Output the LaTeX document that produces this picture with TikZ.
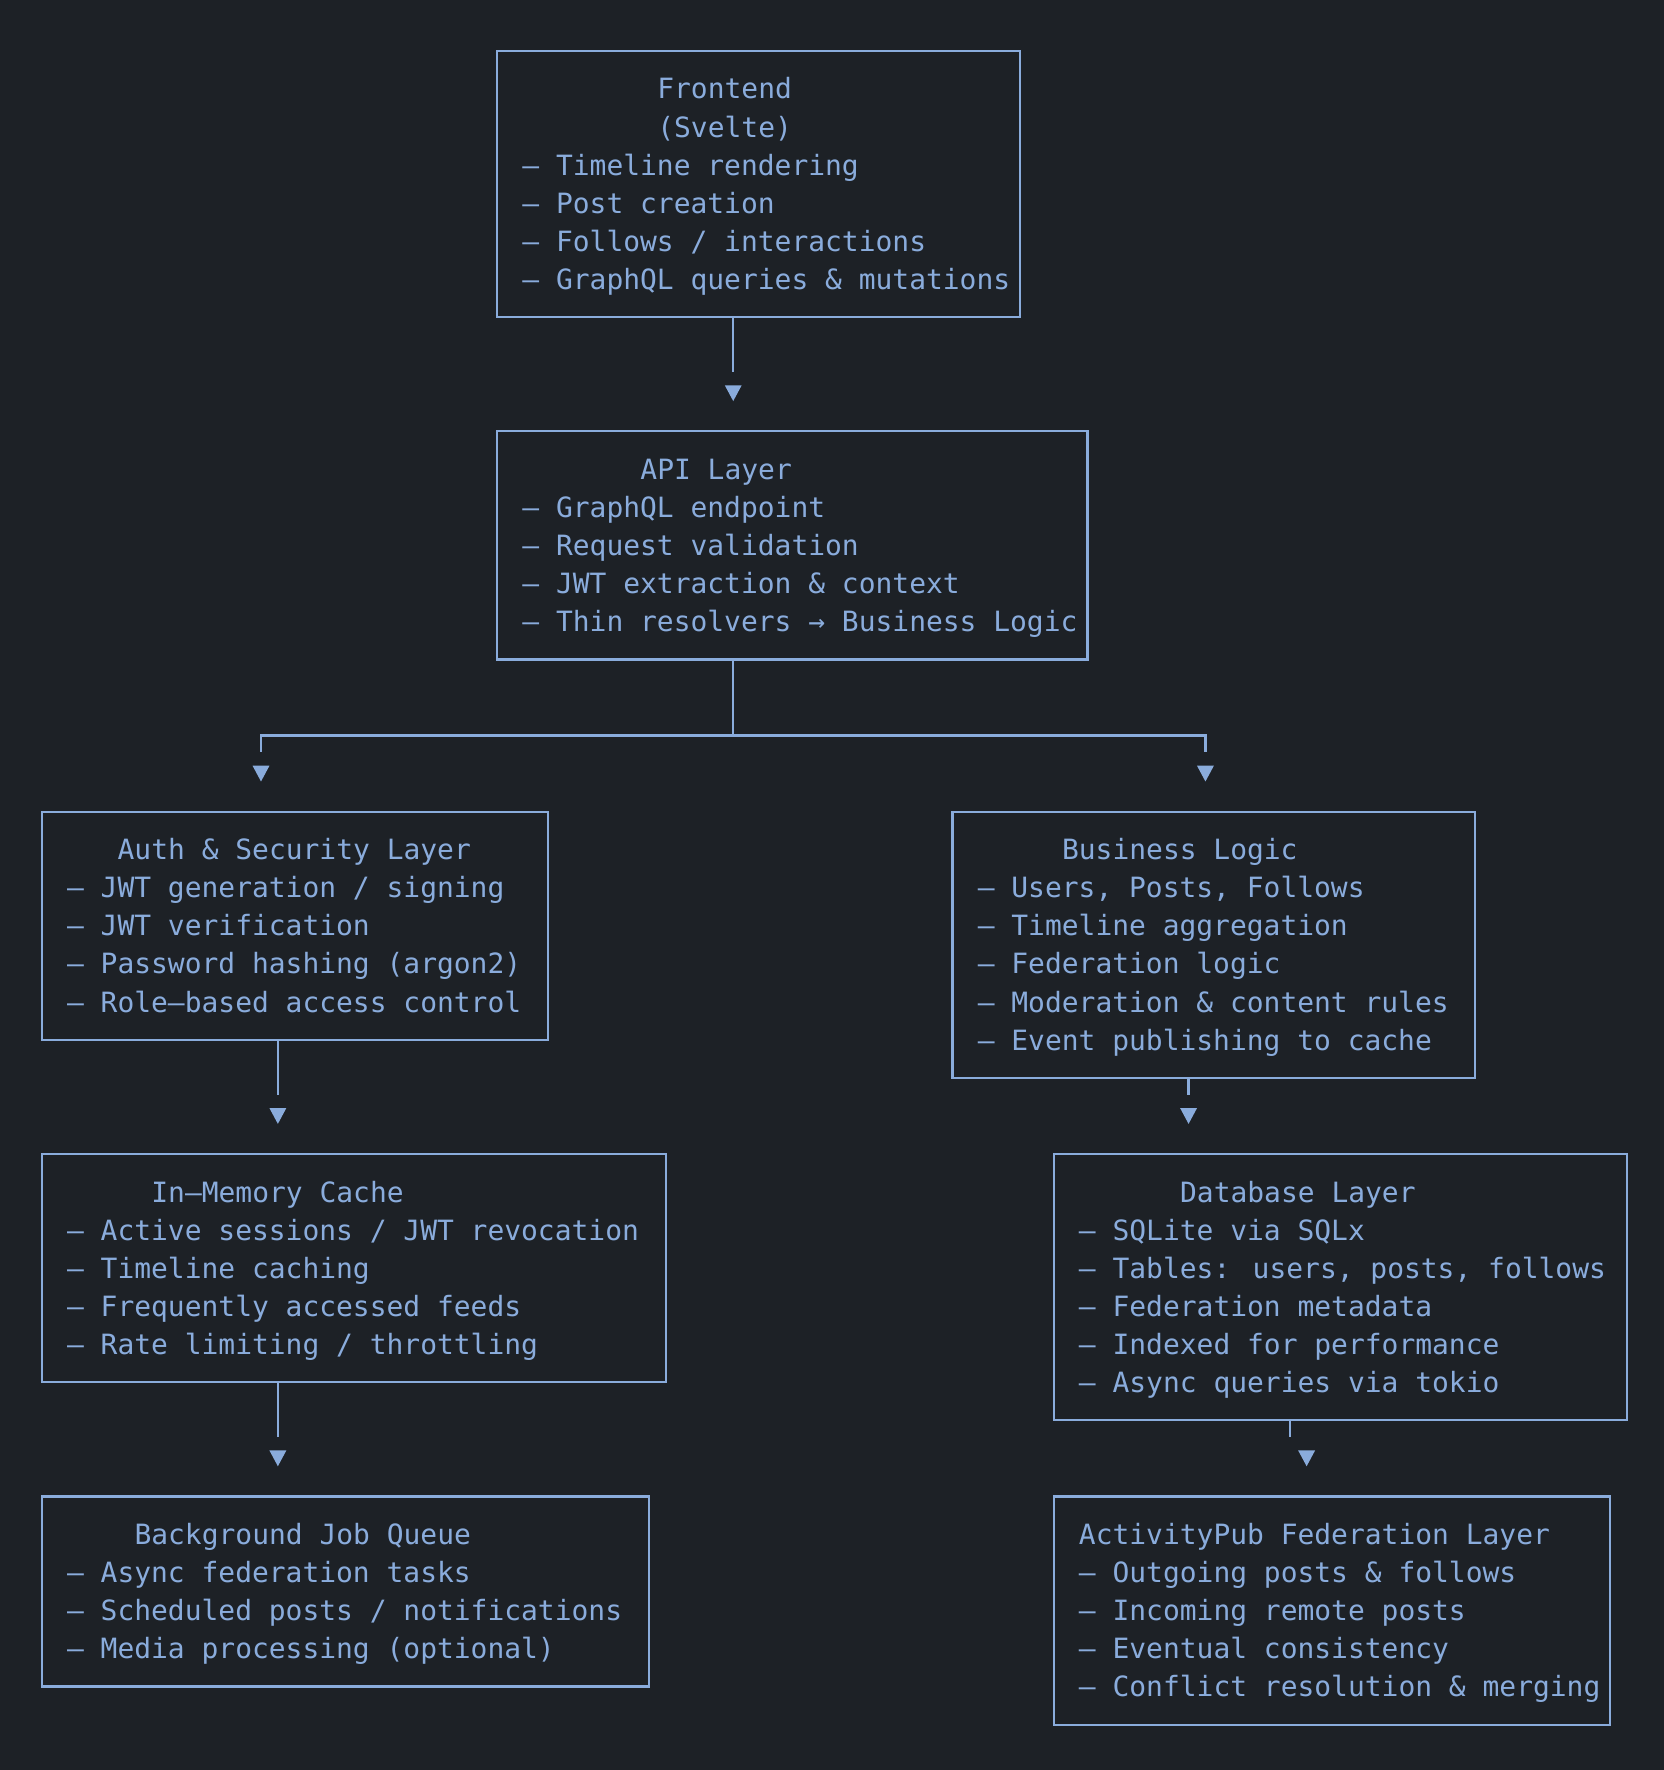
\documentclass[tikz,border=0pt]{standalone}
\usepackage{fontspec}
\newfontfamily\monofam{DejaVu Sans Mono}
\definecolor{bg}{RGB}{29,33,38}
\definecolor{fg}{RGB}{138,172,220}
\tikzset{
  box/.style={draw=fg, line width=2pt, rectangle, inner sep=0pt, outer sep=0pt},
  txt/.style={text=fg, font=\monofam\fontsize{24.75}{33.7}\selectfont, inner sep=0pt, outer sep=0pt, anchor=base west},
  tipbox/.style={inner sep=0pt, outer sep=0pt, minimum width=15pt, minimum height=14pt},
  conn/.style={draw=fg, line width=2pt},
}
\newcommand\tl[4]{\node[txt] (#1) at ({37+14.94*(#2)-7.47},{-(45+33.7*(#3))-9}) {#4};}
\newcommand\mkbox[5]{%
  \pgfmathsetmacro\bw{14.94*(#4-#2)}%
  \pgfmathsetmacro\bh{33.7*(#5-#3)}%
  \pgfmathsetmacro\bx{37+14.94*(#2+#4)/2}%
  \pgfmathsetmacro\by{-(45+33.7*(#3+#5)/2)}%
  \node[box, minimum width=\bw pt, minimum height=\bh pt] (#1) at (\bx,\by) {};}
\newcommand\mktip[3]{%
  \node[tipbox] (#1) at ({37+14.94*(#2)},{-(45+33.7*(#3))}) {};
  \fill[fg] (#1.north west) -- (#1.north east) -- (#1.south) -- cycle;}
\begin{document}
\begin{tikzpicture}[x=1pt,y=1pt]
\fill[bg] (0,0) rectangle (1474,-1568);
\useasboundingbox (0,0) rectangle (1474,-1568);

% boxes
\mkbox{fe}{27}{0}{58}{7}
\mkbox{api}{27}{10}{62}{16}
\mkbox{auth}{0}{20}{30}{26}
\mkbox{bl}{54}{20}{85}{27}
\mkbox{cache}{0}{29}{37}{35}
\mkbox{db}{60}{29}{94}{36}
\mkbox{bjq}{0}{38}{36}{43}
\mkbox{ap}{60}{38}{93}{44}

% texts
\tl{fe1}{37}{1}{Frontend}
\tl{fe2}{37}{2}{(Svelte)}
\tl{fe3}{29}{3}{– Timeline rendering}
\tl{fe4}{29}{4}{– Post creation}
\tl{fe5}{29}{5}{– Follows / interactions}
\tl{fe6}{29}{6}{– GraphQL queries \& mutations}

\tl{api1}{36}{11}{API Layer}
\tl{api2}{29}{12}{– GraphQL endpoint}
\tl{api3}{29}{13}{– Request validation}
\tl{api4}{29}{14}{– JWT extraction \& context}
\tl{api5}{29}{15}{– Thin resolvers → Business Logic}

\tl{au1}{5}{21}{Auth \& Security Layer}
\tl{au2}{2}{22}{– JWT generation / signing}
\tl{au3}{2}{23}{– JWT verification}
\tl{au4}{2}{24}{– Password hashing (argon2)}
\tl{au5}{2}{25}{– Role–based access control}

\tl{bl1}{61}{21}{Business Logic}
\tl{bl2}{56}{22}{– Users, Posts, Follows}
\tl{bl3}{56}{23}{– Timeline aggregation}
\tl{bl4}{56}{24}{– Federation logic}
\tl{bl5}{56}{25}{– Moderation \& content rules}
\tl{bl6}{56}{26}{– Event publishing to cache}

\tl{ca1}{7}{30}{In–Memory Cache}
\tl{ca2}{2}{31}{– Active sessions / JWT revocation}
\tl{ca3}{2}{32}{– Timeline caching}
\tl{ca4}{2}{33}{– Frequently accessed feeds}
\tl{ca5}{2}{34}{– Rate limiting / throttling}

\tl{db1}{68}{30}{Database Layer}
\tl{db2}{62}{31}{– SQLite via SQLx}
\tl{db3}{62}{32}{– Tables: users, posts, follows}
\tl{db4}{62}{33}{– Federation metadata}
\tl{db5}{62}{34}{– Indexed for performance}
\tl{db6}{62}{35}{– Async queries via tokio}

\tl{bj1}{6}{39}{Background Job Queue}
\tl{bj2}{2}{40}{– Async federation tasks}
\tl{bj3}{2}{41}{– Scheduled posts / notifications}
\tl{bj4}{2}{42}{– Media processing (optional)}

\tl{ap1}{62}{39}{ActivityPub Federation Layer}
\tl{ap2}{62}{40}{– Outgoing posts \& follows}
\tl{ap3}{62}{41}{– Incoming remote posts}
\tl{ap4}{62}{42}{– Eventual consistency}
\tl{ap5}{62}{43}{– Conflict resolution \& merging}

% arrow tips
\mktip{a1}{41}{9}
\mktip{a2}{13}{19}
\mktip{a3}{69}{19}
\mktip{a4}{14}{28}
\mktip{a5}{68}{28}
\mktip{a6}{14}{37}
\mktip{a7}{75}{37}

% connectors
\coordinate (j) at ({37+14.94*41},{-(45+33.7*18)});
\coordinate (e7) at ({37+14.94*74},{-(45+33.7*36)-14.5});
\draw[conn] (fe.south -| a1) -- ([yshift=12pt]a1.north);
\draw[conn] (api.south -| j) -- (j);
\draw[conn] (j) -| ([yshift=12pt]a2.north);
\draw[conn] (j) -| ([yshift=12pt]a3.north);
\draw[conn] (auth.south -| a4) -- ([yshift=12pt]a4.north);
\draw[conn] (bl.south -| a5) -- ([yshift=12pt]a5.north);
\draw[conn] (cache.south -| a6) -- ([yshift=12pt]a6.north);
\draw[conn] (db.south -| e7) -- (e7);
\end{tikzpicture}
\end{document}
